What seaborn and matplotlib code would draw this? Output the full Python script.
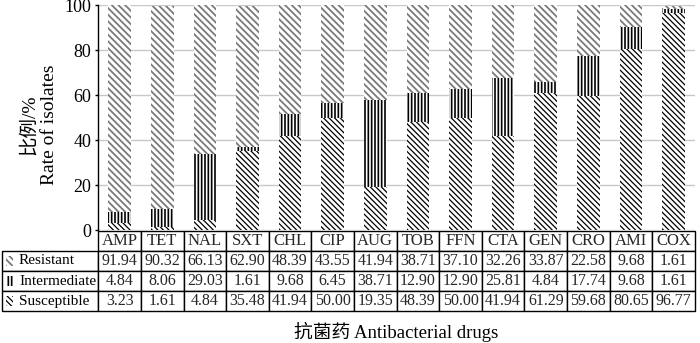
import numpy as np
import pandas as pd
import matplotlib
matplotlib.use("Agg")
import matplotlib.pyplot as plt
import seaborn as sns
from matplotlib.patches import Rectangle

drugs = ["AMP", "TET", "NAL", "SXT", "CHL", "CIP", "AUG", "TOB", "FFN", "CTA", "GEN", "CRO", "AMI", "COX"]
resistant = [91.94, 90.32, 66.13, 62.90, 48.39, 43.55, 41.94, 38.71, 37.10, 32.26, 33.87, 22.58, 9.68, 1.61]
intermediate = [4.84, 8.06, 29.03, 1.61, 9.68, 6.45, 38.71, 12.90, 12.90, 25.81, 4.84, 17.74, 9.68, 1.61]
susceptible = [3.23, 1.61, 4.84, 35.48, 41.94, 50.00, 19.35, 48.39, 50.00, 41.94, 61.29, 59.68, 80.65, 96.77]
row_names = ["Resistant", "Intermediate", "Susceptible"]
yticks = [0, 20, 40, 60, 80, 100]

sns.set_theme(style="white")
plt.rcParams['font.family'] = ['Liberation Serif', 'Noto Sans CJK SC']
plt.rcParams['hatch.linewidth'] = 1.1

fig = plt.figure(figsize=(7, 3.43), dpi=100)
ax = fig.add_axes([0.1404, 0.328, 0.8524, 0.656])

df = pd.DataFrame({"drug": drugs, "R": resistant, "I": intermediate, "S": susceptible})
df["top_R"] = df.R + df.I + df.S
df["top_I"] = df.I + df.S

styles = {
    "R": ("\\\\\\\\\\", "#7a7a7a", 1.3),
    "I": ("|||||", "black", 1.2),
    "S": ("\\\\\\\\\\\\", "black", 0.9),
}
layers = [("top_R", "R"), ("top_I", "I"), ("S", "S")]
for col, key in layers:
    hatch, hc, hlw = styles[key]
    n0 = len(ax.patches)
    with plt.rc_context({"hatch.linewidth": hlw}):
        sns.barplot(data=df, x="drug", y=col, order=drugs, color="white", width=0.53,
                    ax=ax, errorbar=None, saturation=1, linewidth=0)
    for p in ax.patches[n0:]:
        p.set_facecolor("white")
        p.set_edgecolor(hc)
        p.set_hatch(hatch)
        p.set_linewidth(0)
        if hasattr(p, "set_hatch_linewidth"):
            p.set_hatch_linewidth(hlw)

ax.set_xlim(-0.5, 13.5)
ax.set_ylim(0, 100)
ax.set_yticks(yticks)
ax.set_xticks([])
ax.set_xlabel("")
ax.yaxis.grid(True, color="#c8c8c8", lw=1)
ax.set_axisbelow(True)
for s in ["top", "right", "bottom"]:
    ax.spines[s].set_visible(False)
ax.spines["left"].set_color("black")
ax.spines["left"].set_linewidth(1)
ax.tick_params(axis='y', length=2, width=1, pad=3, labelsize=13, colors="black",
               direction="out", left=True)

ax.set_ylabel("比例/%\nRate of isolates", fontsize=14, linespacing=1.25, color="black")
ax.yaxis.set_label_coords(-0.067, 0.47)

label_w = 0.1614
tb_y0, tb_h = -0.358, 0.356
cell_text = [[""] + [f"{v:.2f}" for v in vals] for vals in (resistant, intermediate, susceptible)]
tab = ax.table(cellText=cell_text, colLabels=[""] + drugs,
               cellLoc='center', colLoc='center', colWidths=[label_w] + [1 / 14] * 14,
               bbox=[-label_w, tb_y0, 1 + label_w, tb_h])
tab.auto_set_font_size(False)
tab.set_fontsize(11.5)
for (r, c), cell in tab.get_celld().items():
    cell.set_linewidth(1)
    cell.set_edgecolor("black")
    if r == 0:
        cell.get_text().set_fontsize(12)
    if r == 0 and c == 0:
        cell.set_visible(False)

row_h = tb_h / 4
top = tb_y0 + tb_h
px = 1 / 596.7
for i, name in enumerate(row_names):
    yc = top - row_h * (i + 1.5)
    ax.text(-(98.3 - 19) * px, yc, name, transform=ax.transAxes, ha="left", va="center",
            fontsize=11, color="black")
    hatch, hc, hlw = styles[name[0]]
    with plt.rc_context({"hatch.linewidth": hlw}):
        rect = Rectangle((-(98.3 - 6) * px, yc - 0.022), 7.5 * px, 0.044,
                         transform=ax.transAxes, facecolor="white", edgecolor=hc,
                         hatch=hatch, linewidth=0, clip_on=False)
    ax.add_patch(rect)

fig.text(396 / 700, 1 - 332 / 343, "抗菌药 Antibacterial drugs", ha="center", va="center",
         fontsize=13.5, color="black")

fig.savefig("out.png", dpi=100)
